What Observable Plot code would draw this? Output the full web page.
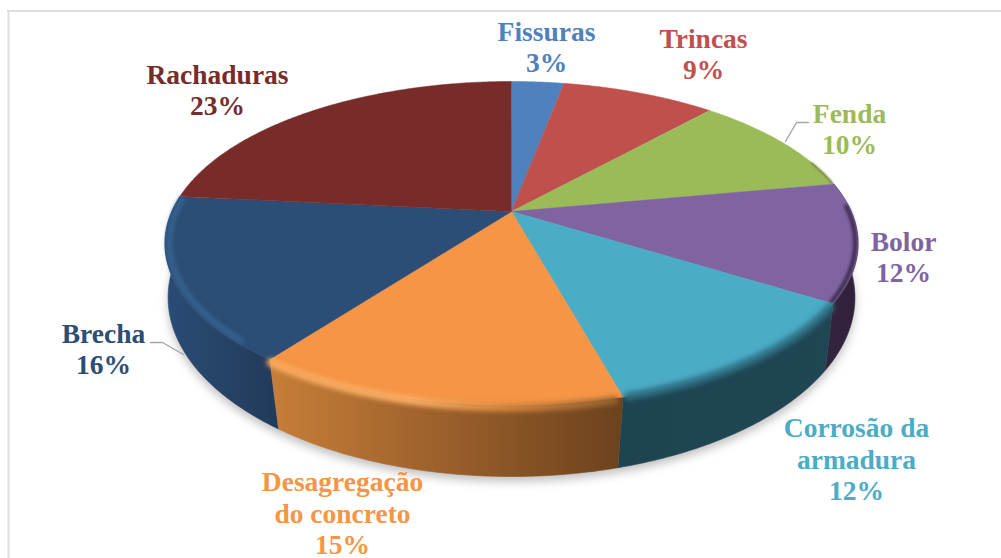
<!DOCTYPE html>
<html><head><meta charset="utf-8">
<script src="https://cdn.jsdelivr.net/npm/d3@7"></script>
<script src="https://cdn.jsdelivr.net/npm/@observablehq/plot@0.6"></script>
<style>html,body{margin:0;padding:0;background:#fff}svg{display:block}</style>
</head><body><div id="chart"></div>
<script>
// ---- data ----
const categories = ["Fissuras","Trincas","Fenda","Bolor","Corrosão da armadura","Desagregação do concreto","Brecha","Rachaduras"];
const shares = [2.95, 8.7, 10.4, 11.8, 11.8, 14.5, 16.3, 23.4];
const labelLines = ["Fissuras","Trincas","Fenda","Bolor","Corrosão da\narmadura","Desagregação\ndo concreto","Brecha","Rachaduras"];

// ---- style ----
const colors = ["#4f81bd","#c0504d","#9bbb59","#8064a2","#4bacc6","#f59545","#2c4d75","#772c2a"];
const labelCenters = [[546,46],[703,53],[849,128],[903,256],[856,458],[342,512],[103,348],[217,89]];
const leaders = [
  [[785,141],[796,122],[808,122]],
  [[150,342],[162,342],[183,354]]
];
const topPlane = {cx:511, cy:211, a:339.7, b:155.7, k:0.1975};
const basePlane = {cx:511, cy:268.4, a:339, b:174.4, k:0.16};

// ---- pie geometry, seen in perspective ----
const total = d3.sum(shares);
const turns = d3.cumsum(shares).map(c => c / total * 2 * Math.PI);
const slices = categories.map((name,i) => ({name, start: i ? turns[i-1] : 0, end: turns[i], color: colors[i], i}));
function project(p, t, r = 1) {
  const X = r * Math.sin(t), Y = -r * Math.cos(t), w = 1 - p.k * Y;
  return [p.cx + p.a * X / w, p.cy + p.b * Y / w];
}
function arc(p, t0, t1, r = 1) {
  const n = Math.max(2, Math.ceil(Math.abs(t1 - t0) / 0.01));
  return d3.range(n + 1).map(j => project(p, t0 + (t1 - t0) * j / n, r));
}
const px = d => d[0], py = d => d[1];
const poly = (pts, o) => Plot.line(pts, {x: px, y: py, curve: "linear", ...o});

const face = s => [[topPlane.cx, topPlane.cy], ...arc(topPlane, s.start, s.end)];
const wall = s => [...arc(topPlane, s.start, s.end), ...arc(basePlane, s.end, s.start)];

const defs = () => {
  const d = d3.create("svg:defs");
  d.html(`
  <linearGradient id="wall3" gradientUnits="userSpaceOnUse" x1="826" x2="858" y1="0" y2="0"><stop offset="0" stop-color="#33243f"/><stop offset="1" stop-color="#2f213a"/></linearGradient>
  <linearGradient id="wall4" gradientUnits="userSpaceOnUse" x1="622" x2="830" y1="0" y2="0"><stop offset="0" stop-color="#1f4451"/><stop offset="1" stop-color="#204654"/></linearGradient>
  <linearGradient id="wall5" gradientUnits="userSpaceOnUse" x1="272" x2="622" y1="0" y2="0"><stop offset="0" stop-color="#c67e38"/><stop offset="0.5" stop-color="#9a5f2b"/><stop offset="1" stop-color="#6c421d"/></linearGradient>
  <linearGradient id="wall6" gradientUnits="userSpaceOnUse" x1="164" x2="276" y1="0" y2="0"><stop offset="0" stop-color="#2a4c75"/><stop offset="1" stop-color="#213b5a"/></linearGradient>
  <linearGradient id="bevel5" gradientUnits="userSpaceOnUse" x1="272" x2="622" y1="0" y2="0"><stop offset="0" stop-color="#f9ab5e"/><stop offset="0.4" stop-color="#fbb066"/><stop offset="0.65" stop-color="#d98a42"/><stop offset="1" stop-color="#94602f"/></linearGradient>`);
  return d.node();
};
const wallFill = {3:"url(#wall3)",4:"url(#wall4)",5:"url(#wall5)",6:"url(#wall6)"};
const front = slices.filter(s => wallFill[s.i]);

const bevels = [
  {i:6, stroke:"#36628f", r:0.988, width:6, from:0.12, to:0.02, blur:2},
  {i:5, stroke:"url(#bevel5)", r:1.008, width:8, from:0.025, to:0.012, blur:2.5},
  {i:4, stroke:"#2f7084", r:1.0, width:8, from:0.02, to:0.012, blur:2.5},
  {i:3, stroke:"#3c2b4c", r:0.992, width:4, from:0.15, to:0.012, blur:1.5},
  {i:2, stroke:"#66763f", r:0.998, width:1.5, from:0.5, to:0.01, blur:1}
];

const marks = [
  defs,
  Plot.ruleY([10.5], {x1: 7, x2: 1001, stroke: "#dedede", strokeWidth: 2}),
  Plot.ruleX([8], {y1: 10, y2: 558, stroke: "#dedede", strokeWidth: 2}),
  // soft shadow under the pie
  poly(arc({...basePlane, cy: basePlane.cy + 5}, 0, 2 * Math.PI), {fill: "#8c8c8c", stroke: "none", fillOpacity: 0.55, imageFilter: "blur(5px)"}),
  // side walls
  ...front.map(s => poly(wall(s), {fill: wallFill[s.i], stroke: wallFill[s.i], strokeWidth: 0.6})),
  // top faces
  ...slices.map(s => poly(face(s), {fill: s.color, stroke: s.color, strokeWidth: 0.5})),
  // rounded rim
  ...bevels.map(b => poly(arc(topPlane, slices[b.i].start + b.from, slices[b.i].end - b.to, b.r), {stroke: b.stroke, strokeWidth: b.width, imageFilter: `blur(${b.blur}px)`})),
  // leader lines
  ...leaders.map(l => poly(l, {stroke: "#a6a6a6", strokeWidth: 1.4})),
  // labels
  ...slices.map((s,i) => Plot.text([`${labelLines[i]}\n${Math.round(shares[i])}%`], {
    frameAnchor: "top-left", dx: labelCenters[i][0], dy: labelCenters[i][1],
    lineAnchor: "middle", textAnchor: "middle", lineHeight: 1.14,
    fill: s.color, fontSize: 27.5, fontWeight: 700, fontFamily: "'Liberation Serif', serif"
  }))
];

const chart = Plot.plot({
  width: 1001, height: 558, margin: 0,
  x: {domain: [0, 1001], range: [0, 1001], axis: null},
  y: {domain: [0, 558], range: [0, 558], axis: null},
  style: {background: "#fff"},
  marks
});
document.getElementById("chart").append(chart);
</script></body></html>
